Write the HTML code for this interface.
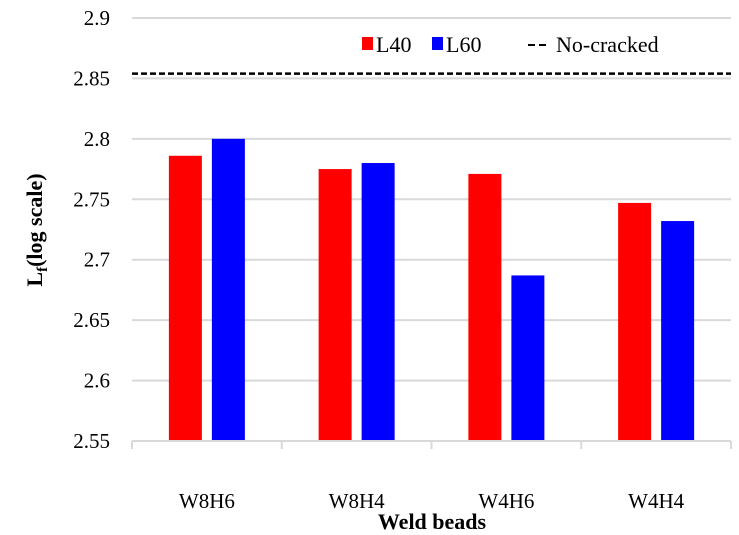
<!DOCTYPE html>
<html><head><meta charset="utf-8"><style>
body{margin:0;background:#fff;}
svg{display:block;font-family:"Liberation Serif",serif;}
</style></head><body>
<svg id="chart" width="739" height="535">
<g id="grid"></g><g id="bars"></g><g id="axes"></g>
<text transform="translate(42,230) rotate(-90)" text-anchor="middle" font-size="22" font-weight="bold">L<tspan font-size="15" dy="5">f</tspan><tspan dy="-5">(log scale)</tspan></text>
<text x="432" y="529" text-anchor="middle" font-size="22" font-weight="bold">Weld beads</text>
<g>
<rect x="362" y="37" width="11" height="13" fill="#ff0000"/>
<text x="376" y="52" font-size="22">L40</text>
<rect x="432" y="37" width="11" height="13" fill="#0000ff"/>
<text x="446" y="52" font-size="22">L60</text>
<line x1="528" y1="45" x2="549" y2="45" stroke="#000" stroke-width="2" stroke-dasharray="7,4"/>
<text x="556" y="52" font-size="22">No-cracked</text>
</g>
</svg>
<script>
const categories=["W8H6","W8H4","W4H6","W4H4"];
const l40=[2.786,2.775,2.771,2.747];
const l60=[2.800,2.780,2.687,2.732];
const noCracked=2.854;
const yTicks=[2.55,2.6,2.65,2.7,2.75,2.8,2.85,2.9];
const yTickLabels=["2.55","2.6","2.65","2.7","2.75","2.8","2.85","2.9"];
const NS="http://www.w3.org/2000/svg";
const x0=132,x1=731,yMin=2.55,yMax=2.9,py0=441,py1=18;
const y=v=>py0-(v-yMin)/(yMax-yMin)*(py0-py1);
const bandW=(x1-x0)/categories.length;
const bx=i=>x0+i*bandW;
function mk(tag,attrs,parent){const e=document.createElementNS(NS,tag);for(const k in attrs)e.setAttribute(k,attrs[k]);parent.appendChild(e);return e;}
const grid=document.getElementById('grid'),bars=document.getElementById('bars'),axes=document.getElementById('axes');
yTicks.forEach((t,i)=>{
 if(i>0){const g=mk('line',{x1:x0,x2:x1,y1:y(t),y2:y(t),stroke:'#d9d9d9','stroke-width':2},grid);
 
 }
 const tx=mk('text',{x:110,y:y(t)+7,'text-anchor':'end','font-size':21},axes);
 tx.textContent=yTickLabels[i];
 
 
});
const ax=mk('line',{x1:x0,x2:x1,y1:py0,y2:py0,stroke:'#d9d9d9','stroke-width':2},axes);


for(let i=0;i<=categories.length;i++){const tk=mk('line',{x1:bx(i),x2:bx(i),y1:py0,y2:py0+8,stroke:'#d9d9d9','stroke-width':2},axes);
 
 }
categories.forEach((c,i)=>{
 const cx=bx(i)+bandW/2;
 const r=mk('rect',{x:cx-38,y:y(l40[i]),width:33,height:py0-y(l40[i]),fill:'#ff0000'},bars);
 
 
 const b=mk('rect',{x:cx+5,y:y(l60[i]),width:33,height:py0-y(l60[i]),fill:'#0000ff'},bars);
 
 
 const t=mk('text',{x:cx,y:508,'text-anchor':'middle','font-size':21},axes);
 t.textContent=c;
 
 
});
const d=mk('line',{x1:x0,x2:x1,y1:y(noCracked),y2:y(noCracked),stroke:'#000','stroke-width':2.5,'stroke-dasharray':'6,3'},bars);


</script>
</body></html>
